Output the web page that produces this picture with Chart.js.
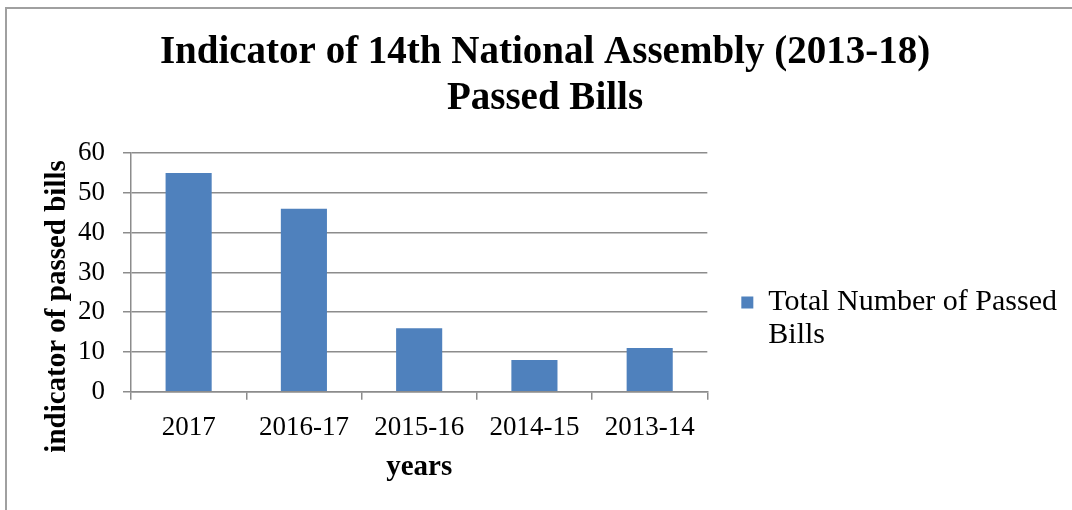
<!DOCTYPE html>
<html lang="en">
<head>
    <meta charset="UTF-8">
    <title>14th National Assembly - Passed Bills</title>
    <style>
        body {
            margin: 0;
            padding: 0;
            background-color: #ffffff;
        }

        .frame {
            position: absolute;
            left: 0;
            top: 0;
            width: 1072px;
            height: 510px;
        }

        .border {
            position: absolute;
            left: 5px;
            top: 7px;
            right: -10px;
            bottom: -10px;
            border-left: 2px solid #a0a0a0;
            border-top: 2px solid #a0a0a0;
        }
    </style>
    <script src="https://cdn.jsdelivr.net/npm/chart.js"></script>
</head>
<body>
    <div class="frame">
        <div class="border"></div>
        <canvas id="billsChart" width="1072" height="510"></canvas>
    </div>

    <script>
        const years = ['2017', '2016-17', '2015-16', '2014-15', '2013-14'];
        const passedBills = [55, 46, 16, 8, 11];
        const seriesName = 'Total Number of Passed Bills';
        const legendLines = ['Total Number of Passed', 'Bills'];
        const titleLines = ['Indicator of 14th National Assembly (2013-18)', 'Passed Bills'];
        const yTitle = 'indicator of passed bills';
        const xTitle = 'years';

        const serif = '"Liberation Serif", "DejaVu Serif", serif';
        const gridGray = '#8c8c8c';

        // rotated y-axis title, sits a little below the plot centre
        const yTitlePlugin = {
            id: 'yTitle',
            afterDraw(chart) {
                const { ctx, chartArea } = chart;
                ctx.save();
                ctx.translate(chartArea.left - 73, (chartArea.top + chartArea.bottom) / 2 + 34);
                ctx.rotate(-Math.PI / 2);
                ctx.font = 'bold 29px ' + serif;
                ctx.fillStyle = '#000';
                ctx.textAlign = 'center';
                ctx.textBaseline = 'middle';
                ctx.fillText(yTitle, 0, 0);
                ctx.restore();
            }
        };

        const ctx = document.getElementById('billsChart').getContext('2d');
        new Chart(ctx, {
            type: 'bar',
            data: {
                labels: years,
                datasets: [{
                    label: seriesName,
                    data: passedBills,
                    backgroundColor: '#4f81bd',
                    borderWidth: 0,
                    barPercentage: 0.8,
                    categoryPercentage: 0.5
                }]
            },
            options: {
                responsive: false,
                animation: false,
                layout: {
                    padding: { left: 23, right: 5, top: 8, bottom: 25 }
                },
                plugins: {
                    title: {
                        display: true,
                        text: titleLines,
                        color: '#000',
                        font: { family: serif, size: 39, weight: 'bold', lineHeight: 1.18 },
                        padding: { top: 22, bottom: 31 }
                    },
                    legend: {
                        position: 'right',
                        maxWidth: 420,
                        // empty title only pushes the entry down
                        title: {
                            display: true,
                            text: ' ',
                            font: { size: 10, lineHeight: 1.2 },
                            padding: { top: 136, bottom: 0 }
                        },
                        labels: {
                            color: '#000',
                            font: { family: serif, size: 30, lineHeight: 1.1 },
                            boxWidth: 12,
                            boxHeight: 12,
                            padding: 34,
                            generateLabels(chart) {
                                const ds = chart.data.datasets[0];
                                return [{
                                    text: legendLines,
                                    fillStyle: ds.backgroundColor,
                                    strokeStyle: ds.backgroundColor,
                                    fontColor: '#000',
                                    lineWidth: 0,
                                    datasetIndex: 0
                                }];
                            }
                        }
                    },
                    tooltip: { enabled: false }
                },
                scales: {
                    x: {
                        grid: {
                            drawOnChartArea: false,
                            drawTicks: true,
                            tickLength: 8,
                            color: gridGray,
                            lineWidth: 1.5
                        },
                        border: { color: gridGray, width: 1.5 },
                        ticks: {
                            color: '#000',
                            font: { family: serif, size: 27 },
                            padding: 12,
                            maxRotation: 0
                        },
                        title: {
                            display: true,
                            text: xTitle,
                            color: '#000',
                            font: { family: serif, size: 29, weight: 'bold' },
                            padding: { top: -6, bottom: 0 }
                        }
                    },
                    y: {
                        min: 0,
                        max: 60,
                        ticks: {
                            stepSize: 10,
                            color: '#000',
                            font: { family: serif, size: 27 },
                            padding: 18
                        },
                        grid: {
                            color: gridGray,
                            lineWidth: 1.5,
                            tickLength: 8
                        },
                        border: { color: gridGray, width: 1.5 },
                        afterFit(scale) {
                            scale.width = 108;
                        }
                    }
                }
            },
            plugins: [yTitlePlugin]
        });
    </script>
</body>
</html>
